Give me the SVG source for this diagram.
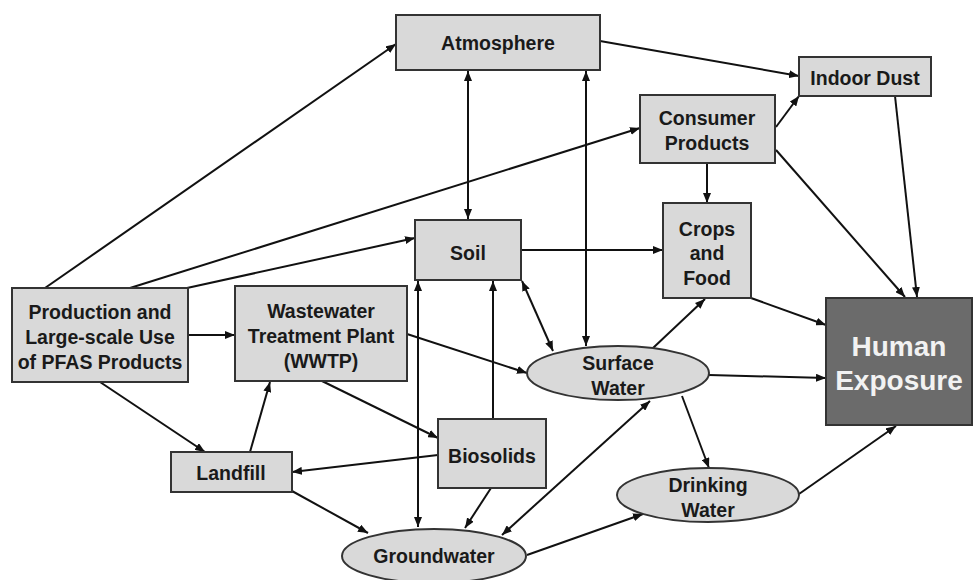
<svg xmlns="http://www.w3.org/2000/svg" width="973" height="580" viewBox="0 0 973 580">
<style>
.box{fill:#d9d9d9;stroke:#333;stroke-width:2}
.t{font-family:"Liberation Sans",Arial,sans-serif;font-weight:bold;font-size:19.5px;fill:#1a1a1a;text-anchor:middle}
.h{font-family:"Liberation Sans",Arial,sans-serif;font-weight:bold;font-size:28px;fill:#f2f2f2;text-anchor:middle}
.c line{stroke:#111;stroke-width:2;marker-end:url(#a)}
.c line.b{marker-start:url(#a)}
</style>
<defs>
<marker id="a" markerUnits="userSpaceOnUse" markerWidth="10" markerHeight="8" refX="10" refY="4" orient="auto-start-reverse">
<path d="M0,0 L10,4 L0,8 z" fill="#111"/>
</marker>
</defs>
<rect width="973" height="580" fill="#fff"/>
<g class="c" id="connectors">
<line x1="45" y1="288" x2="396" y2="44"/>
<line x1="130" y1="288" x2="640" y2="128"/>
<line x1="187" y1="288" x2="415" y2="238"/>
<line x1="188" y1="335" x2="235" y2="335"/>
<line x1="100" y1="382" x2="205" y2="452"/>
<line x1="250" y1="452" x2="270" y2="382"/>
<line x1="438" y1="455" x2="292" y2="472"/>
<line x1="322" y1="381" x2="438" y2="438"/>
<line x1="407" y1="334" x2="527" y2="373"/>
<line x1="292" y1="491" x2="368" y2="533"/>
<line x1="491" y1="488" x2="465" y2="528"/>
<line class="b" x1="650" y1="401" x2="502" y2="535"/>
<line x1="527" y1="555" x2="643" y2="514"/>
<line x1="682" y1="396" x2="709" y2="468"/>
<line x1="653" y1="348" x2="705" y2="299"/>
<line x1="751" y1="298" x2="826" y2="325"/>
<line x1="709" y1="375" x2="826" y2="378"/>
<line x1="799" y1="494" x2="896" y2="426"/>
<line x1="895" y1="96" x2="917" y2="297"/>
<line x1="776" y1="150" x2="905" y2="297"/>
<line x1="776" y1="127" x2="799" y2="96"/>
<line x1="707" y1="163" x2="707" y2="203"/>
<line x1="521" y1="250" x2="663" y2="250"/>
<line x1="600" y1="41" x2="799" y2="76"/>
<line class="b" x1="468" y1="71" x2="468" y2="219"/>
<line class="b" x1="586" y1="71" x2="586" y2="346"/>
<line class="b" x1="418" y1="281" x2="418" y2="527"/>
<line x1="493" y1="419" x2="493" y2="281"/>
<line class="b" x1="522" y1="281" x2="553" y2="351"/>
</g>
<g id="atmosphere"><rect class="box" x="396" y="15" width="204" height="55"/><text class="t" x="498" y="50">Atmosphere</text></g>
<g id="indoor-dust"><rect class="box" x="799" y="57" width="132" height="39"/><text class="t" x="865" y="85">Indoor Dust</text></g>
<g id="consumer-products"><rect class="box" x="640" y="95" width="135" height="68"/><text class="t" x="707" y="125">Consumer</text><text class="t" x="707" y="150">Products</text></g>
<g id="crops-food"><rect class="box" x="663" y="203" width="88" height="95"/><text class="t" x="707" y="236">Crops</text><text class="t" x="707" y="260">and</text><text class="t" x="707" y="285">Food</text></g>
<g id="soil"><rect class="box" x="415" y="220" width="106" height="60"/><text class="t" x="468" y="260">Soil</text></g>
<g id="production"><rect class="box" x="12" y="288" width="176" height="94"/><text class="t" x="100" y="319">Production and</text><text class="t" x="100" y="344">Large-scale Use</text><text class="t" x="100" y="369">of PFAS Products</text></g>
<g id="wwtp"><rect class="box" x="235" y="286" width="172" height="95"/><text class="t" x="321" y="318">Wastewater</text><text class="t" x="321" y="343">Treatment Plant</text><text class="t" x="321" y="368">(WWTP)</text></g>
<g id="landfill"><rect class="box" x="171" y="452" width="121" height="40"/><text class="t" x="231" y="480">Landfill</text></g>
<g id="biosolids"><rect class="box" x="438" y="419" width="108" height="69"/><text class="t" x="492" y="463">Biosolids</text></g>
<g id="groundwater"><ellipse class="box" cx="434" cy="556" rx="92" ry="27"/><text class="t" x="434" y="563">Groundwater</text></g>
<g id="surface-water"><ellipse class="box" cx="618" cy="373" rx="91" ry="27"/><text class="t" x="618" y="370">Surface</text><text class="t" x="618" y="395">Water</text></g>
<g id="drinking-water"><ellipse class="box" cx="708" cy="495" rx="91" ry="27"/><text class="t" x="708" y="492">Drinking</text><text class="t" x="708" y="517">Water</text></g>
<g id="human-exposure"><rect x="826" y="298" width="146" height="127" fill="#6b6b6b" stroke="#333" stroke-width="2"/><text class="h" x="899" y="356">Human</text><text class="h" x="899" y="390">Exposure</text></g>
</svg>
